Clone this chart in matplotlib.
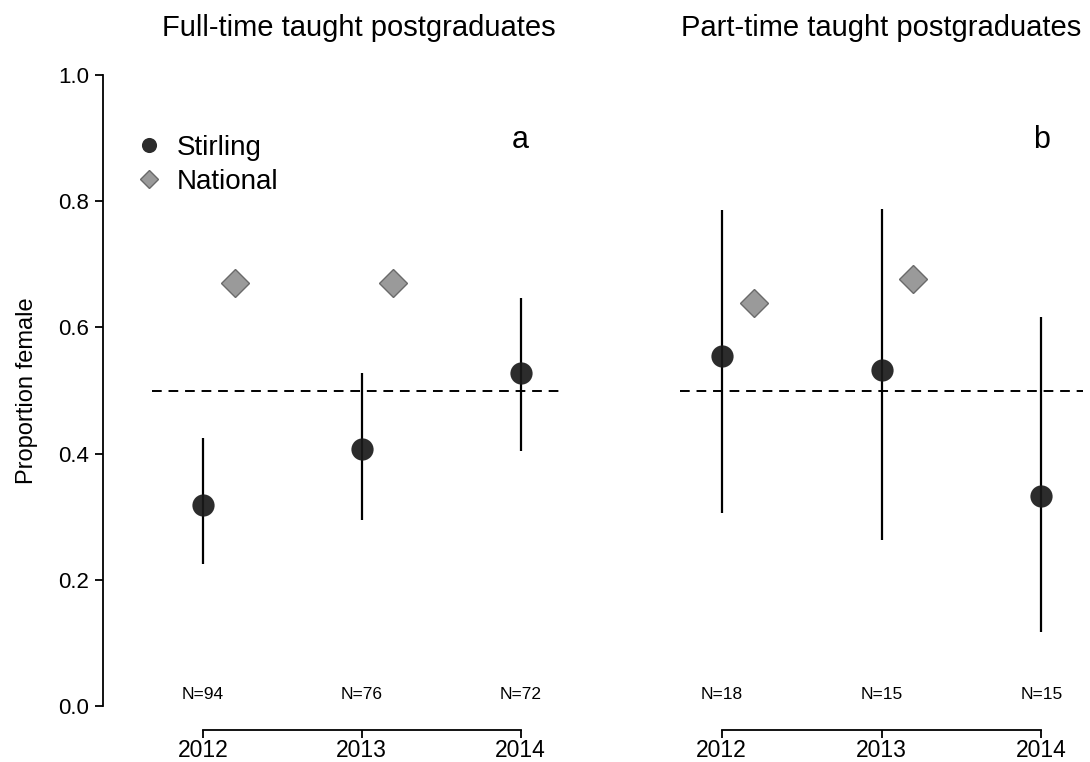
import numpy as np
import matplotlib
matplotlib.use('Agg')
import matplotlib.pyplot as plt

plt.rcParams['font.family'] = ['Liberation Sans', 'DejaVu Sans']

years = [2012, 2013, 2014]
nat_years = [2012, 2013]
ft_stirling = [0.319, 0.408, 0.528]
ft_lo = [0.225, 0.294, 0.404]
ft_hi = [0.424, 0.528, 0.647]
ft_national = [0.671, 0.670]
ft_n = [94, 76, 72]
pt_stirling = [0.555, 0.533, 0.333]
pt_lo = [0.306, 0.263, 0.118]
pt_hi = [0.786, 0.788, 0.617]
pt_national = [0.638, 0.677]
pt_n = [18, 15, 15]

W, H = 1090, 762
px = 72 / 100.  # pixels -> points
fig = plt.figure(figsize=(10.9, 7.62), dpi=100)
axL = fig.add_axes([152/W, 56/H, 413/W, 631/H])
axR = fig.add_axes([680/W, 56/H, 403/W, 631/H])

panels = [
    (axL, ft_stirling, ft_lo, ft_hi, ft_national, ft_n, 'a', 'Full-time taught postgraduates', (2011.68, 2014.28)),
    (axR, pt_stirling, pt_lo, pt_hi, pt_national, pt_n, 'b', 'Part-time taught postgraduates', (2011.74, 2014.26)),
]

for ax, st, lo, hi, nat, nn, lab, title, xl in panels:
    st = np.array(st)
    yerr = [st - np.array(lo), np.array(hi) - st]
    ax.axhline(0.5, color='black', ls=(0, (5, 3.5)), lw=1.4, zorder=1)
    ax.errorbar(years, st, yerr=yerr, fmt='none', ecolor='black', elinewidth=1.6, capsize=0, zorder=2)
    ax.plot(years, st, 'o', ms=16, color='#1a1a1a', alpha=0.92, mec='none', zorder=3, label='Stirling')
    ax.plot(np.array(nat_years) + 0.2, nat, 'D', ms=14, mfc='#9a9a9a', mec='#6a6a6a', mew=1, zorder=3, label='National')
    for x, n in zip(years, nn):
        ax.text(x, 0.018, 'N=%d' % n, ha='center', va='center', fontsize=12.5)
    ax.text(2014, 0.897, lab, ha='center', va='center', fontsize=22)
    ax.set_xlim(*xl)
    ax.set_ylim(0, 1)
    ax.set_title(title, fontsize=21, pad=28)
    ax.spines['top'].set_visible(False)
    ax.spines['right'].set_visible(False)
    ax.spines['bottom'].set_position(('outward', 24 * px))
    ax.spines['bottom'].set_bounds(2012, 2014)
    ax.spines['bottom'].set_linewidth(1.3)
    ax.set_xticks(years)
    ax.set_xticklabels([str(y) for y in years], fontsize=16.5)
    ax.tick_params(axis='x', length=8 * px, width=1.3, pad=0.5)

axL.spines['left'].set_position(('outward', 49 * px))
axL.spines['left'].set_linewidth(1.3)
axL.set_yticks([0, 0.2, 0.4, 0.6, 0.8, 1.0])
axL.set_yticklabels(['0.0', '0.2', '0.4', '0.6', '0.8', '1.0'], fontsize=16)
axL.tick_params(axis='y', length=8 * px, width=1.3, pad=4)
axL.set_ylabel('Proportion female', fontsize=17, labelpad=15)
axR.spines['left'].set_visible(False)
axR.set_yticks([])

axL.legend(loc='upper left', bbox_to_anchor=(-0.108, 0.945), frameon=False, fontsize=20,
           markerscale=0.68, handletextpad=0.4, labelspacing=0.3, handlelength=1.2)

fig.savefig('out.png', dpi=100)
